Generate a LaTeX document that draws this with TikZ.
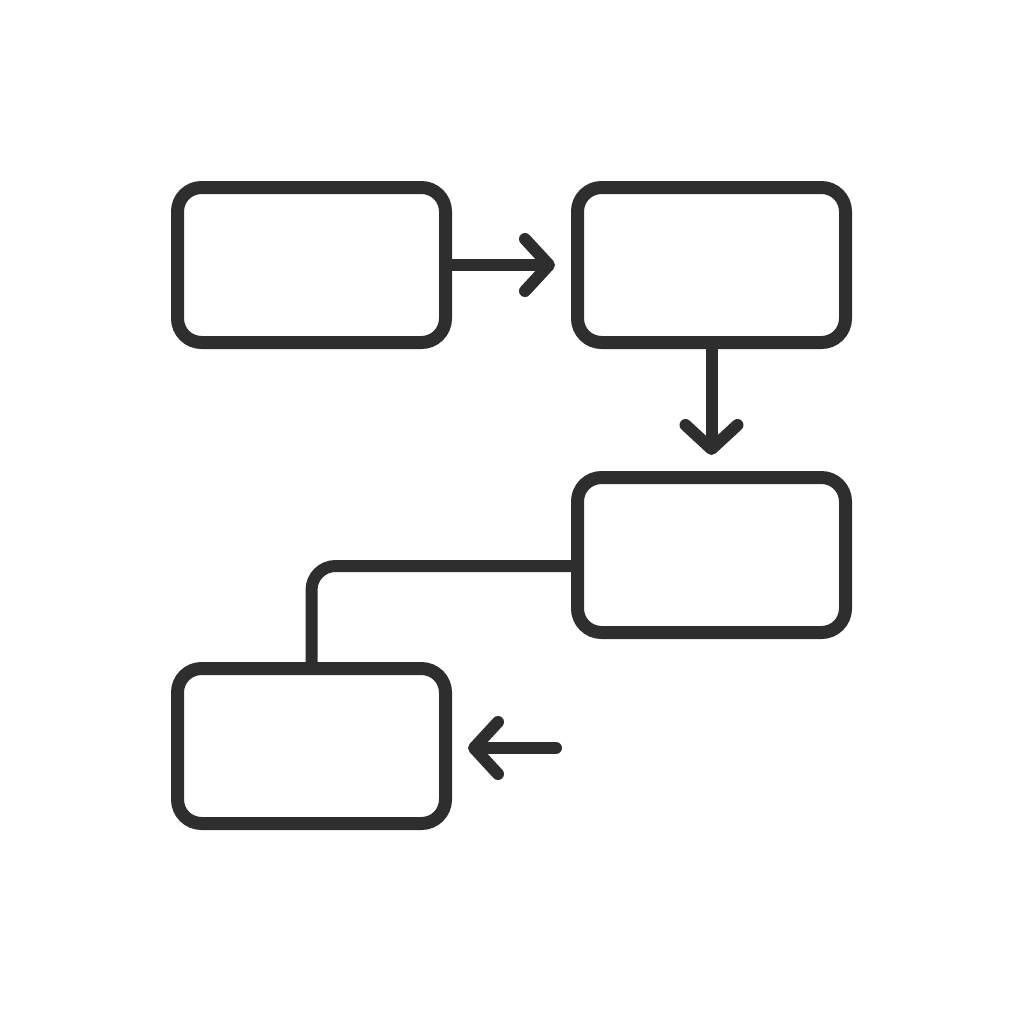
\documentclass[tikz,border=0pt]{standalone}
\usepackage{tikz}
\usetikzlibrary{positioning,arrows.meta}
\definecolor{ink}{RGB}{46,46,46}

\begin{document}
\begin{tikzpicture}[
		box/.style={draw=ink, line width=0.13cm, rounded corners=0.24cm,
			minimum width=2.68cm, minimum height=1.55cm},
		flow/.style={draw=ink, line width=0.12cm, line cap=round, line join=round,
			-{Straight Barb[length=0.24cm, width=0.52cm, line cap=round, line join=round]},
			shorten >=0.16cm},
		link/.style={draw=ink, line width=0.12cm, rounded corners=0.24cm}
	]
	\useasboundingbox (0,0) rectangle (10.24,-10.24);
	\node [box] (b1) at (3.115,-2.65) {};
	\node [box, right=1.19cm of b1] (b2) {};
	\node [box, below=1.22cm of b2] (b3) {};
	\node [box] (b4) at (3.115,-7.46) {};
	\coordinate (src) at (5.56,-7.48);
	%
	\draw [flow] (b1) -- (b2);
	\draw [flow] (b2) -- (b3);
	\draw [link] ([yshift=-0.11cm]b3.west) -| (b4.north);
	\draw [flow] (src) -- (src -| b4.east);
\end{tikzpicture}
\end{document}
